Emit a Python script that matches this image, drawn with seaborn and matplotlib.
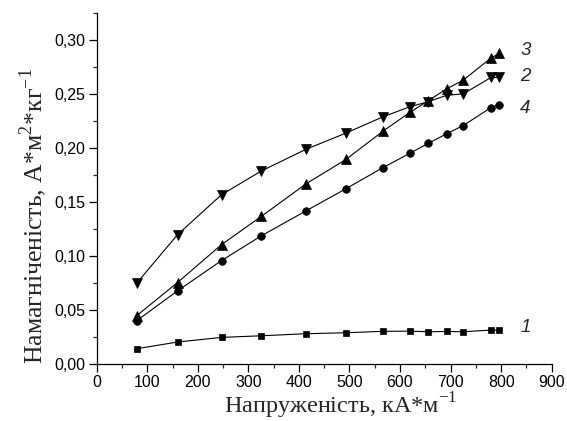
import numpy as np
import pandas as pd
import matplotlib
matplotlib.use("Agg")
import matplotlib.pyplot as plt
import seaborn as sns
from matplotlib.ticker import MultipleLocator, FuncFormatter

sns.set_theme(style="ticks")
plt.rcParams['font.family'] = ['Liberation Sans', 'DejaVu Sans']
plt.rcParams['mathtext.fontset'] = 'custom'
plt.rcParams['mathtext.rm'] = 'Liberation Serif'

x = [79, 160, 247, 326, 414, 493, 566, 620, 656, 692, 725, 780, 796]
s1 = [0.0144, 0.0206, 0.0249, 0.0264, 0.0283, 0.0292, 0.0305, 0.0307, 0.0301, 0.0304, 0.0301, 0.0317, 0.0314]
s2 = [0.075, 0.120, 0.157, 0.179, 0.199, 0.214, 0.229, 0.2385, 0.243, 0.249, 0.2503, 0.2655, 0.2655]
s3 = [0.0449, 0.0757, 0.1108, 0.137, 0.167, 0.1896, 0.2157, 0.2333, 0.244, 0.2549, 0.263, 0.2835, 0.2877]
s4 = [0.0403, 0.068, 0.096, 0.119, 0.142, 0.1625, 0.182, 0.1954, 0.2046, 0.2133, 0.221, 0.2376, 0.2403]
labels = ["1", "2", "3", "4"]
label_y = [0.0338, 0.266, 0.290, 0.237]
label_x = 848

series = [s1, s2, s3, s4]
markers = ["s", "v", "^", "o"]
sizes = [5, 6.5, 6.5, 5.5]

fig = plt.figure(figsize=(5.67, 4.21), dpi=100)
ax = fig.add_axes([0.1705, 0.1347, 0.8025, 0.834])

for lab, ys, m, ms in zip(labels, series, markers, sizes):
    df = pd.DataFrame({"x": x, "y": ys})
    sns.lineplot(data=df, x="x", y="y", ax=ax, color="black", linewidth=0.8,
                 marker=m, markersize=ms, markeredgecolor="black",
                 markerfacecolor="black", markeredgewidth=0.5)

for lab, ly in zip(labels, label_y):
    ax.text(label_x, ly, lab, fontsize=13.5, fontstyle="italic", ha="center", va="center")

ax.set_xlim(0, 900)
ax.set_ylim(0, 0.325)
ax.xaxis.set_major_locator(MultipleLocator(100))
ax.xaxis.set_minor_locator(MultipleLocator(50))
ax.yaxis.set_major_locator(MultipleLocator(0.05))
ax.yaxis.set_minor_locator(MultipleLocator(0.025))
ax.yaxis.set_major_formatter(FuncFormatter(lambda v, p: f"{v:.2f}".replace(".", ",")))
ax.tick_params(which="major", direction="out", length=5.5, width=0.9, labelsize=11.5, colors="black", pad=2.5)
ax.tick_params(which="minor", direction="out", length=3, width=0.9)
for s in ["top", "right"]:
    ax.spines[s].set_visible(False)
for s in ["left", "bottom"]:
    ax.spines[s].set_linewidth(0.9)
    ax.spines[s].set_color("black")

ax.set_xlabel("Напруженість, кА*м$^{-1}$", fontsize=17.5, family="Liberation Serif", va="baseline")
ax.set_ylabel("Намагніченість, А*м$^{2}$*кг$^{-1}$", fontsize=18.5, family="Liberation Serif", va="baseline")
ax.xaxis.set_label_coords(0.537, -0.1415)
ax.yaxis.set_label_coords(-0.1187, 0.422)

fig.savefig("out.png", dpi=100)
